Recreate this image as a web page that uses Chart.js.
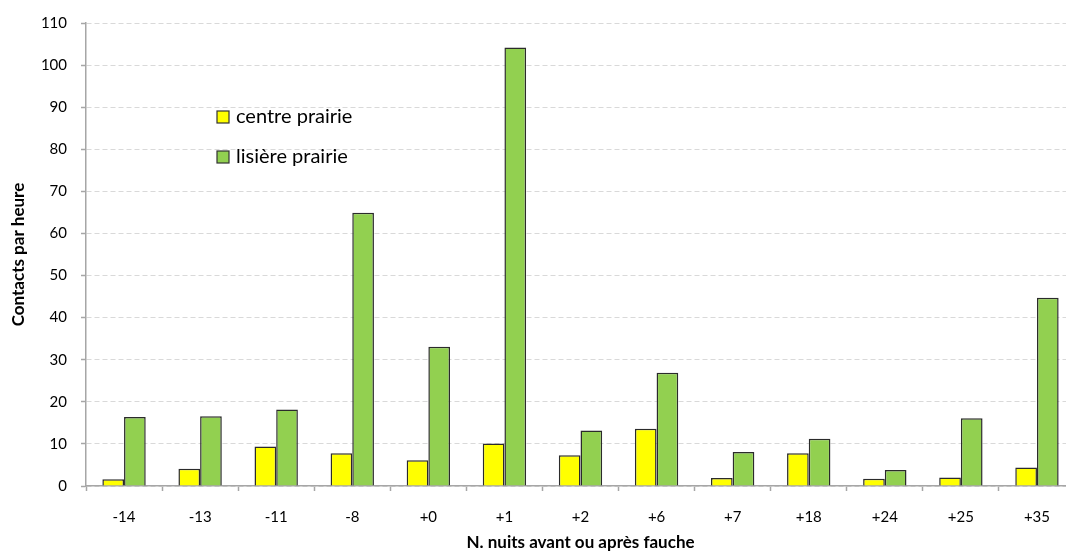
<!DOCTYPE html>
<html lang="fr">
<head>
<meta charset="UTF-8">
<title>Contacts par heure</title>
<script src="https://cdn.jsdelivr.net/npm/chart.js"></script>
<style>
    body {
        margin: 0;
        background: #ffffff;
        overflow: hidden;
    }
    .chart-box {
        width: 1075px;
        height: 554px;
    }
</style>
</head>
<body>
<div class="chart-box">
    <canvas id="graphique"></canvas>
</div>
<script>
// nuits avant / après fauche
const nuits = ['-14', '-13', '-11', '-8', '+0', '+1', '+2', '+6', '+7', '+18', '+24', '+25', '+35'];
const centrePrairie = [1.6, 4.1, 9.4, 7.8, 6.1, 10.1, 7.3, 13.6, 1.9, 7.8, 1.7, 2.0, 4.4];
const lisierePrairie = [16.4, 16.6, 18.2, 64.9, 33.1, 104.2, 13.2, 26.9, 8.1, 11.2, 3.8, 16.1, 44.7];
const yTicks = [0, 10, 20, 30, 40, 50, 60, 70, 80, 90, 100, 110];

const police = 'Lato, "Liberation Sans", sans-serif';

// légende dessinée dans la zone du graphique
const legendeInterne = {
    id: 'legendeInterne',
    afterDatasetsDraw(chart) {
        const ctx = chart.ctx;
        ctx.save();
        ctx.font = '20px ' + police;
        ctx.textBaseline = 'middle';
        chart.data.datasets.forEach((ds, i) => {
            const y = 117 + i * 40;
            ctx.fillStyle = ds.backgroundColor;
            ctx.fillRect(217, y - 6, 12, 12);
            ctx.strokeStyle = '#333333';
            ctx.lineWidth = 1.2;
            ctx.strokeRect(217, y - 6, 12, 12);
            ctx.fillStyle = '#000000';
            ctx.fillText(ds.label, 236, y);
        });
        ctx.restore();
    }
};

const ctx = document.getElementById('graphique').getContext('2d');
new Chart(ctx, {
    type: 'bar',
    data: {
        labels: nuits,
        datasets: [{
            label: 'centre prairie',
            data: centrePrairie,
            backgroundColor: '#FFFF00',
            borderColor: '#2b2b2b',
            borderWidth: 1.5,
            borderSkipped: 'bottom'
        }, {
            label: 'lisière prairie',
            data: lisierePrairie,
            backgroundColor: '#92D050',
            borderColor: '#2b2b2b',
            borderWidth: 1.5,
            borderSkipped: 'bottom'
        }]
    },
    options: {
        responsive: true,
        maintainAspectRatio: false,
        animation: false,
        layout: {
            padding: { top: 20, left: 0, right: 0, bottom: 0 }
        },
        datasets: {
            bar: {
                barPercentage: 1,
                categoryPercentage: 0.57
            }
        },
        plugins: {
            legend: { display: false },
            tooltip: { enabled: false }
        },
        scales: {
            x: {
                grid: {
                    drawOnChartArea: false,
                    offset: true,
                    tickLength: 5,
                    tickColor: '#a6a6a6',
                    tickWidth: 1.5
                },
                border: { color: '#a6a6a6', width: 1.5 },
                ticks: {
                    color: '#000000',
                    font: { family: police, size: 15 },
                    padding: 17,
                    maxRotation: 0
                },
                title: {
                    display: true,
                    text: 'N. nuits avant ou après fauche',
                    color: '#000000',
                    font: { family: police, size: 17, weight: 'bold' },
                    padding: { top: 0, bottom: 1 }
                },
                afterFit(scale) {
                    scale.height = 68;
                }
            },
            y: {
                min: 0,
                max: 110,
                afterBuildTicks(scale) {
                    scale.ticks = yTicks.map(v => ({ value: v }));
                },
                grid: {
                    color: '#d9d9d9',
                    lineWidth: 1,
                    tickLength: 5,
                    tickColor: '#a6a6a6',
                    tickWidth: 1.5
                },
                border: { color: '#a6a6a6', width: 1.5, dash: [5, 3] },
                ticks: {
                    color: '#000000',
                    font: { family: police, size: 15 },
                    padding: 14
                },
                title: {
                    display: true,
                    text: 'Contacts par heure',
                    color: '#000000',
                    font: { family: police, size: 17, weight: 'bold' },
                    padding: { top: 8, bottom: 0 }
                },
                afterFit(scale) {
                    scale.width = 86;
                }
            }
        }
    },
    plugins: [legendeInterne]
});
</script>
</body>
</html>
